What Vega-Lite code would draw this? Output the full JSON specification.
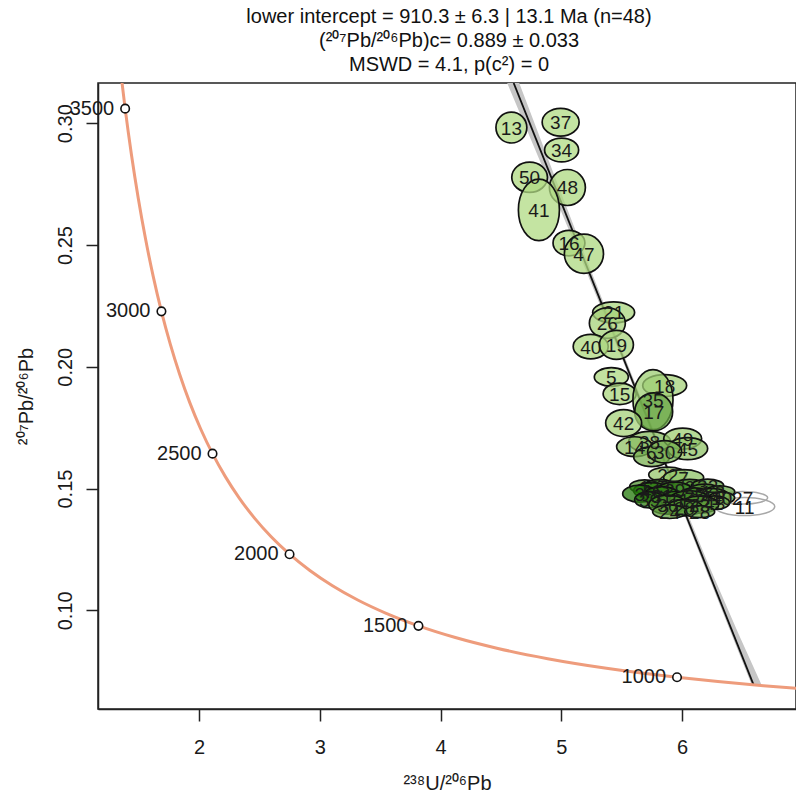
{
  "$schema": "https://vega.github.io/schema/vega-lite/v6.json",
  "width": 698,
  "height": 626,
  "autosize": {"type": "none"},
  "padding": {"left": 98, "top": 83, "right": 0, "bottom": 86},
  "background": "white",
  "title": {
    "text": ["lower intercept = 910.3 ± 6.3 | 13.1 Ma (n=48)", "(²⁰⁷Pb/²⁰⁶Pb)c= 0.889 ± 0.033", "MSWD = 4.1, p(c²) = 0"],
    "fontSize": 20,
    "font": "Liberation Sans",
    "fontWeight": "normal",
    "color": "#111111",
    "lineHeight": 24,
    "anchor": "middle",
    "frame": "group",
    "offset": 8,
    "dx": 2
  },
  "datasets": {
    "concordia": [
      {"t": 800, "x": 7.5683, "y": 0.065829},
      {"t": 850, "x": 7.0950, "y": 0.067425},
      {"t": 900, "x": 6.6743, "y": 0.069073},
      {"t": 950, "x": 6.2980, "y": 0.070775},
      {"t": 1000, "x": 5.9593, "y": 0.072532},
      {"t": 1100, "x": 5.3746, "y": 0.076222},
      {"t": 1200, "x": 4.8875, "y": 0.080158},
      {"t": 1300, "x": 4.4756, "y": 0.084360},
      {"t": 1400, "x": 4.1227, "y": 0.088846},
      {"t": 1500, "x": 3.8170, "y": 0.093639},
      {"t": 1600, "x": 3.5497, "y": 0.098761},
      {"t": 1700, "x": 3.3140, "y": 0.104233},
      {"t": 1800, "x": 3.1046, "y": 0.110085},
      {"t": 1900, "x": 2.9174, "y": 0.116344},
      {"t": 2000, "x": 2.7490, "y": 0.123042},
      {"t": 2100, "x": 2.5968, "y": 0.130210},
      {"t": 2200, "x": 2.4586, "y": 0.137883},
      {"t": 2300, "x": 2.3325, "y": 0.146100},
      {"t": 2400, "x": 2.2170, "y": 0.154902},
      {"t": 2500, "x": 2.1108, "y": 0.164335},
      {"t": 2600, "x": 2.0129, "y": 0.174445},
      {"t": 2700, "x": 1.9224, "y": 0.185284},
      {"t": 2800, "x": 1.8384, "y": 0.196909},
      {"t": 2900, "x": 1.7603, "y": 0.209377},
      {"t": 3000, "x": 1.6875, "y": 0.222755},
      {"t": 3100, "x": 1.6194, "y": 0.237114},
      {"t": 3200, "x": 1.5557, "y": 0.252533},
      {"t": 3300, "x": 1.4959, "y": 0.269087},
      {"t": 3400, "x": 1.4398, "y": 0.286866},
      {"t": 3500, "x": 1.3869, "y": 0.305967},
      {"t": 3600, "x": 1.3370, "y": 0.326494}
    ],
    "discordia": [
      {"x": 4.6058, "y": 0.3165},
      {"x": 6.5935, "y": 0.06942}
    ],
    "band": [
      {"y": 0.3165, "xlo": 4.552, "xhi": 4.652},
      {"y": 0.28, "xlo": 4.862, "xhi": 4.932},
      {"y": 0.24, "xlo": 5.200, "xhi": 5.242},
      {"y": 0.20, "xlo": 5.530, "xhi": 5.558},
      {"y": 0.16, "xlo": 5.853, "xhi": 5.879},
      {"y": 0.12, "xlo": 6.172, "xhi": 6.210},
      {"y": 0.09, "xlo": 6.412, "xhi": 6.472},
      {"y": 0.0694, "xlo": 6.578, "xhi": 6.660}
    ],
    "ellipses": [
      {"label": "13", "x": 4.587, "y": 0.2982, "sx": 0.128, "ell": 1.0, "v": 0.08, "fit": true},
      {"label": "37", "x": 4.995, "y": 0.3004, "sx": 0.153, "ell": 0.75, "v": 0.08, "fit": true},
      {"label": "34", "x": 5.003, "y": 0.2890, "sx": 0.141, "ell": 0.7, "v": 0.08, "fit": true},
      {"label": "50", "x": 4.738, "y": 0.2778, "sx": 0.148, "ell": 0.85, "v": 0.1, "fit": true},
      {"label": "48", "x": 5.051, "y": 0.2736, "sx": 0.149, "ell": 1.0, "v": 0.1, "fit": true},
      {"label": "41", "x": 4.815, "y": 0.2644, "sx": 0.170, "ell": 1.5, "v": 0.08, "fit": true},
      {"label": "16", "x": 5.064, "y": 0.2508, "sx": 0.132, "ell": 0.8, "v": 0.1, "fit": true},
      {"label": "47", "x": 5.188, "y": 0.2464, "sx": 0.162, "ell": 1.0, "v": 0.1, "fit": true},
      {"label": "21", "x": 5.434, "y": 0.2223, "sx": 0.174, "ell": 0.5, "v": 0.12, "fit": true},
      {"label": "26", "x": 5.382, "y": 0.2179, "sx": 0.149, "ell": 0.85, "v": 0.15, "fit": true},
      {"label": "40", "x": 5.244, "y": 0.2083, "sx": 0.145, "ell": 0.7, "v": 0.1, "fit": true},
      {"label": "19", "x": 5.457, "y": 0.2090, "sx": 0.141, "ell": 0.85, "v": 0.12, "fit": true},
      {"label": "5", "x": 5.415, "y": 0.1958, "sx": 0.141, "ell": 0.55, "v": 0.1, "fit": true},
      {"label": "15", "x": 5.484, "y": 0.1889, "sx": 0.137, "ell": 0.65, "v": 0.12, "fit": true},
      {"label": "18", "x": 5.857, "y": 0.1923, "sx": 0.182, "ell": 0.5, "v": 0.15, "fit": true},
      {"label": "35", "x": 5.760, "y": 0.1865, "sx": 0.166, "ell": 1.5, "v": 0.2, "fit": true},
      {"label": "17", "x": 5.766, "y": 0.1815, "sx": 0.157, "ell": 1.0, "v": 0.55, "fit": true},
      {"label": "42", "x": 5.517, "y": 0.1769, "sx": 0.149, "ell": 0.75, "v": 0.15, "fit": true},
      {"label": "38", "x": 5.732, "y": 0.1692, "sx": 0.174, "ell": 0.5, "v": 0.35, "fit": true},
      {"label": "14", "x": 5.608, "y": 0.1672, "sx": 0.149, "ell": 0.55, "v": 0.3, "fit": true},
      {"label": "49", "x": 6.006, "y": 0.1705, "sx": 0.157, "ell": 0.55, "v": 0.2, "fit": true},
      {"label": "45", "x": 6.047, "y": 0.1664, "sx": 0.166, "ell": 0.55, "v": 0.3, "fit": true},
      {"label": "9", "x": 5.749, "y": 0.1631, "sx": 0.149, "ell": 0.55, "v": 0.45, "fit": true},
      {"label": "30", "x": 5.857, "y": 0.1651, "sx": 0.141, "ell": 0.65, "v": 0.45, "fit": true},
      {"label": "22", "x": 5.882, "y": 0.1557, "sx": 0.157, "ell": 0.4, "v": 0.25, "fit": true},
      {"label": "7", "x": 6.014, "y": 0.1545, "sx": 0.166, "ell": 0.4, "v": 0.3, "fit": true},
      {"label": "1", "x": 5.691, "y": 0.1508, "sx": 0.124, "ell": 0.45, "v": 0.7, "fit": true},
      {"label": "33", "x": 5.815, "y": 0.1508, "sx": 0.133, "ell": 0.45, "v": 0.8, "fit": true},
      {"label": "2", "x": 6.064, "y": 0.1508, "sx": 0.149, "ell": 0.4, "v": 0.75, "fit": true},
      {"label": "32", "x": 6.213, "y": 0.1512, "sx": 0.133, "ell": 0.4, "v": 0.6, "fit": true},
      {"label": "46", "x": 5.749, "y": 0.1491, "sx": 0.149, "ell": 0.45, "v": 0.9, "fit": true},
      {"label": "29", "x": 5.940, "y": 0.1495, "sx": 0.141, "ell": 0.45, "v": 0.85, "fit": true},
      {"label": "4", "x": 6.188, "y": 0.1487, "sx": 0.141, "ell": 0.45, "v": 0.7, "fit": true},
      {"label": "8", "x": 6.313, "y": 0.1487, "sx": 0.124, "ell": 0.4, "v": 0.55, "fit": true},
      {"label": "3", "x": 5.650, "y": 0.1479, "sx": 0.141, "ell": 0.5, "v": 0.95, "fit": true},
      {"label": "31", "x": 5.831, "y": 0.1471, "sx": 0.149, "ell": 0.5, "v": 0.9, "fit": true},
      {"label": "25", "x": 6.105, "y": 0.1475, "sx": 0.124, "ell": 0.45, "v": 0.8, "fit": true},
      {"label": "44", "x": 6.246, "y": 0.1467, "sx": 0.149, "ell": 0.45, "v": 0.6, "fit": true},
      {"label": "10", "x": 6.329, "y": 0.1462, "sx": 0.108, "ell": 0.45, "v": 0.4, "fit": true},
      {"label": "39", "x": 5.732, "y": 0.1454, "sx": 0.124, "ell": 0.55, "v": 0.9, "fit": true},
      {"label": "6", "x": 5.964, "y": 0.1454, "sx": 0.141, "ell": 0.5, "v": 0.85, "fit": true},
      {"label": "12", "x": 6.064, "y": 0.1454, "sx": 0.166, "ell": 0.45, "v": 0.75, "fit": true},
      {"label": "43", "x": 6.271, "y": 0.1442, "sx": 0.124, "ell": 0.45, "v": 0.45, "fit": true},
      {"label": "36", "x": 5.882, "y": 0.1434, "sx": 0.157, "ell": 0.5, "v": 0.7, "fit": true},
      {"label": "23", "x": 6.147, "y": 0.1434, "sx": 0.157, "ell": 0.45, "v": 0.65, "fit": true},
      {"label": "20", "x": 6.022, "y": 0.1421, "sx": 0.149, "ell": 0.45, "v": 0.7, "fit": true},
      {"label": "24", "x": 5.898, "y": 0.1405, "sx": 0.141, "ell": 0.4, "v": 0.6, "fit": true},
      {"label": "28", "x": 6.147, "y": 0.1405, "sx": 0.124, "ell": 0.4, "v": 0.55, "fit": true},
      {"label": "27", "x": 6.503, "y": 0.1462, "sx": 0.207, "ell": 0.25, "v": 0, "fit": false},
      {"label": "11", "x": 6.520, "y": 0.1426, "sx": 0.249, "ell": 0.3, "v": 0, "fit": false}
    ]
  },
  "encoding": {
    "x": {"type": "quantitative", "scale": {"domain": [1.162, 6.945], "nice": false, "zero": false},
      "axis": {"values": [2, 3, 4, 5, 6], "format": "d", "title": "²³⁸U/²⁰⁶Pb", "labelPadding": 16, "titlePadding": 16, "labelFlush": false}},
    "y": {"type": "quantitative", "scale": {"domain": [0.0595, 0.3165], "nice": false, "zero": false},
      "axis": {"values": [0.1, 0.15, 0.2, 0.25, 0.3], "format": ".2f", "title": "²⁰⁷Pb/²⁰⁶Pb", "labelAngle": 270, "labelAlign": "center", "labelBaseline": "alphabetic", "labelPadding": 15, "titlePadding": 19, "labelOverlap": false, "labelFlush": false}}
  },
  "layer": [
    {
      "data": {"name": "band"},
      "mark": {"type": "area", "orient": "horizontal", "color": "#c6c6c6", "opacity": 1, "clip": true},
      "encoding": {
        "y": {"field": "y", "type": "quantitative"},
        "x": {"field": "xlo", "type": "quantitative"},
        "x2": {"field": "xhi"}
      }
    },
    {
      "data": {"name": "discordia"},
      "mark": {"type": "line", "color": "#111111", "strokeWidth": 1.8, "clip": true},
      "encoding": {
        "x": {"field": "x", "type": "quantitative"},
        "y": {"field": "y", "type": "quantitative"}
      }
    },
    {
      "data": {"name": "concordia"},
      "mark": {"type": "line", "color": "#EE9C7C", "strokeWidth": 3, "interpolate": "monotone", "clip": true},
      "encoding": {
        "x": {"field": "x", "type": "quantitative"},
        "y": {"field": "y", "type": "quantitative"},
        "order": {"field": "t", "type": "quantitative"}
      }
    },
    {
      "data": {"name": "concordia"},
      "transform": [{"filter": "datum.t >= 1000 && datum.t <= 3500 && datum.t % 500 == 0"}],
      "mark": {"type": "point", "shape": "circle", "size": 72, "filled": false, "fill": "white", "stroke": "#111111", "strokeWidth": 1.6, "opacity": 1},
      "encoding": {
        "x": {"field": "x", "type": "quantitative"},
        "y": {"field": "y", "type": "quantitative"}
      }
    },
    {
      "data": {"name": "concordia"},
      "transform": [{"filter": "datum.t >= 1000 && datum.t <= 3500 && datum.t % 500 == 0"}],
      "mark": {"type": "text", "align": "right", "baseline": "middle", "dx": -11, "fontSize": 20, "font": "Liberation Sans", "color": "#1a1a1a"},
      "encoding": {
        "x": {"field": "x", "type": "quantitative"},
        "y": {"field": "y", "type": "quantitative"},
        "text": {"field": "t", "type": "quantitative", "format": "d"}
      }
    },
    {
      "data": {"name": "ellipses"},
      "transform": [{"filter": "!datum.fit"}],
      "mark": {"type": "point", "filled": false, "stroke": "#a8a8a8", "strokeWidth": 1.5, "opacity": 1, "clip": true},
      "encoding": {
        "x": {"field": "x", "type": "quantitative"},
        "y": {"field": "y", "type": "quantitative"},
        "size": {"field": "sx", "type": "quantitative", "scale": {"type": "pow", "exponent": 2, "domain": [0, 0.25], "range": [0, 3642]}, "legend": null},
        "shape": {"field": "ell", "type": "ordinal", "legend": null,
          "scale": {"domain": [0.25, 0.3, 0.4, 0.45, 0.5, 0.55, 0.65, 0.7, 0.75, 0.8, 0.85, 1.0, 1.5],
            "range": [
              "M-1,0A1,0.25,0,1,1,1,0A1,0.25,0,1,1,-1,0Z",
              "M-1,0A1,0.3,0,1,1,1,0A1,0.3,0,1,1,-1,0Z",
              "M-1,0A1,0.4,0,1,1,1,0A1,0.4,0,1,1,-1,0Z",
              "M-1,0A1,0.45,0,1,1,1,0A1,0.45,0,1,1,-1,0Z",
              "M-1,0A1,0.5,0,1,1,1,0A1,0.5,0,1,1,-1,0Z",
              "M-1,0A1,0.55,0,1,1,1,0A1,0.55,0,1,1,-1,0Z",
              "M-1,0A1,0.65,0,1,1,1,0A1,0.65,0,1,1,-1,0Z",
              "M-1,0A1,0.7,0,1,1,1,0A1,0.7,0,1,1,-1,0Z",
              "M-1,0A1,0.75,0,1,1,1,0A1,0.75,0,1,1,-1,0Z",
              "M-1,0A1,0.8,0,1,1,1,0A1,0.8,0,1,1,-1,0Z",
              "M-1,0A1,0.85,0,1,1,1,0A1,0.85,0,1,1,-1,0Z",
              "M-1,0A1,1,0,1,1,1,0A1,1,0,1,1,-1,0Z",
              "M-1,0A1,1.5,0,1,1,1,0A1,1.5,0,1,1,-1,0Z"
            ]}}
      }
    },
    {
      "data": {"name": "ellipses"},
      "transform": [{"filter": "datum.fit"}],
      "mark": {"type": "point", "filled": true, "stroke": "#111111", "strokeWidth": 1.7, "opacity": 1, "fillOpacity": 0.75, "clip": true},
      "encoding": {
        "x": {"field": "x", "type": "quantitative"},
        "y": {"field": "y", "type": "quantitative"},
        "color": {"field": "v", "type": "quantitative", "scale": {"domain": [0, 1], "range": ["#bce48e", "#167300"]}, "legend": null},
        "size": {"field": "sx", "type": "quantitative", "scale": {"type": "pow", "exponent": 2, "domain": [0, 0.25], "range": [0, 3642]}, "legend": null},
        "shape": {"field": "ell", "type": "ordinal", "legend": null,
          "scale": {"domain": [0.25, 0.3, 0.4, 0.45, 0.5, 0.55, 0.65, 0.7, 0.75, 0.8, 0.85, 1.0, 1.5],
            "range": [
              "M-1,0A1,0.25,0,1,1,1,0A1,0.25,0,1,1,-1,0Z",
              "M-1,0A1,0.3,0,1,1,1,0A1,0.3,0,1,1,-1,0Z",
              "M-1,0A1,0.4,0,1,1,1,0A1,0.4,0,1,1,-1,0Z",
              "M-1,0A1,0.45,0,1,1,1,0A1,0.45,0,1,1,-1,0Z",
              "M-1,0A1,0.5,0,1,1,1,0A1,0.5,0,1,1,-1,0Z",
              "M-1,0A1,0.55,0,1,1,1,0A1,0.55,0,1,1,-1,0Z",
              "M-1,0A1,0.65,0,1,1,1,0A1,0.65,0,1,1,-1,0Z",
              "M-1,0A1,0.7,0,1,1,1,0A1,0.7,0,1,1,-1,0Z",
              "M-1,0A1,0.75,0,1,1,1,0A1,0.75,0,1,1,-1,0Z",
              "M-1,0A1,0.8,0,1,1,1,0A1,0.8,0,1,1,-1,0Z",
              "M-1,0A1,0.85,0,1,1,1,0A1,0.85,0,1,1,-1,0Z",
              "M-1,0A1,1,0,1,1,1,0A1,1,0,1,1,-1,0Z",
              "M-1,0A1,1.5,0,1,1,1,0A1,1.5,0,1,1,-1,0Z"
            ]}}
      }
    },
    {
      "data": {"name": "ellipses"},
      "mark": {"type": "text", "align": "center", "baseline": "middle", "fontSize": 19, "font": "Liberation Sans", "color": "#1a1a1a", "dy": 1},
      "encoding": {
        "x": {"field": "x", "type": "quantitative"},
        "y": {"field": "y", "type": "quantitative"},
        "text": {"field": "label", "type": "nominal"}
      }
    }
  ],
  "config": {
    "font": "Liberation Sans",
    "view": {"stroke": "#222222", "strokeWidth": 1.5},
    "axis": {
      "labelFont": "Liberation Sans", "labelFontSize": 20, "labelColor": "#1a1a1a",
      "titleFont": "Liberation Sans", "titleFontSize": 20, "titleFontWeight": "normal", "titleColor": "#1a1a1a",
      "tickColor": "#222222", "tickWidth": 1.5, "tickSize": 12,
      "domainColor": "#222222", "domainWidth": 1.5, "grid": false
    }
  }
}
